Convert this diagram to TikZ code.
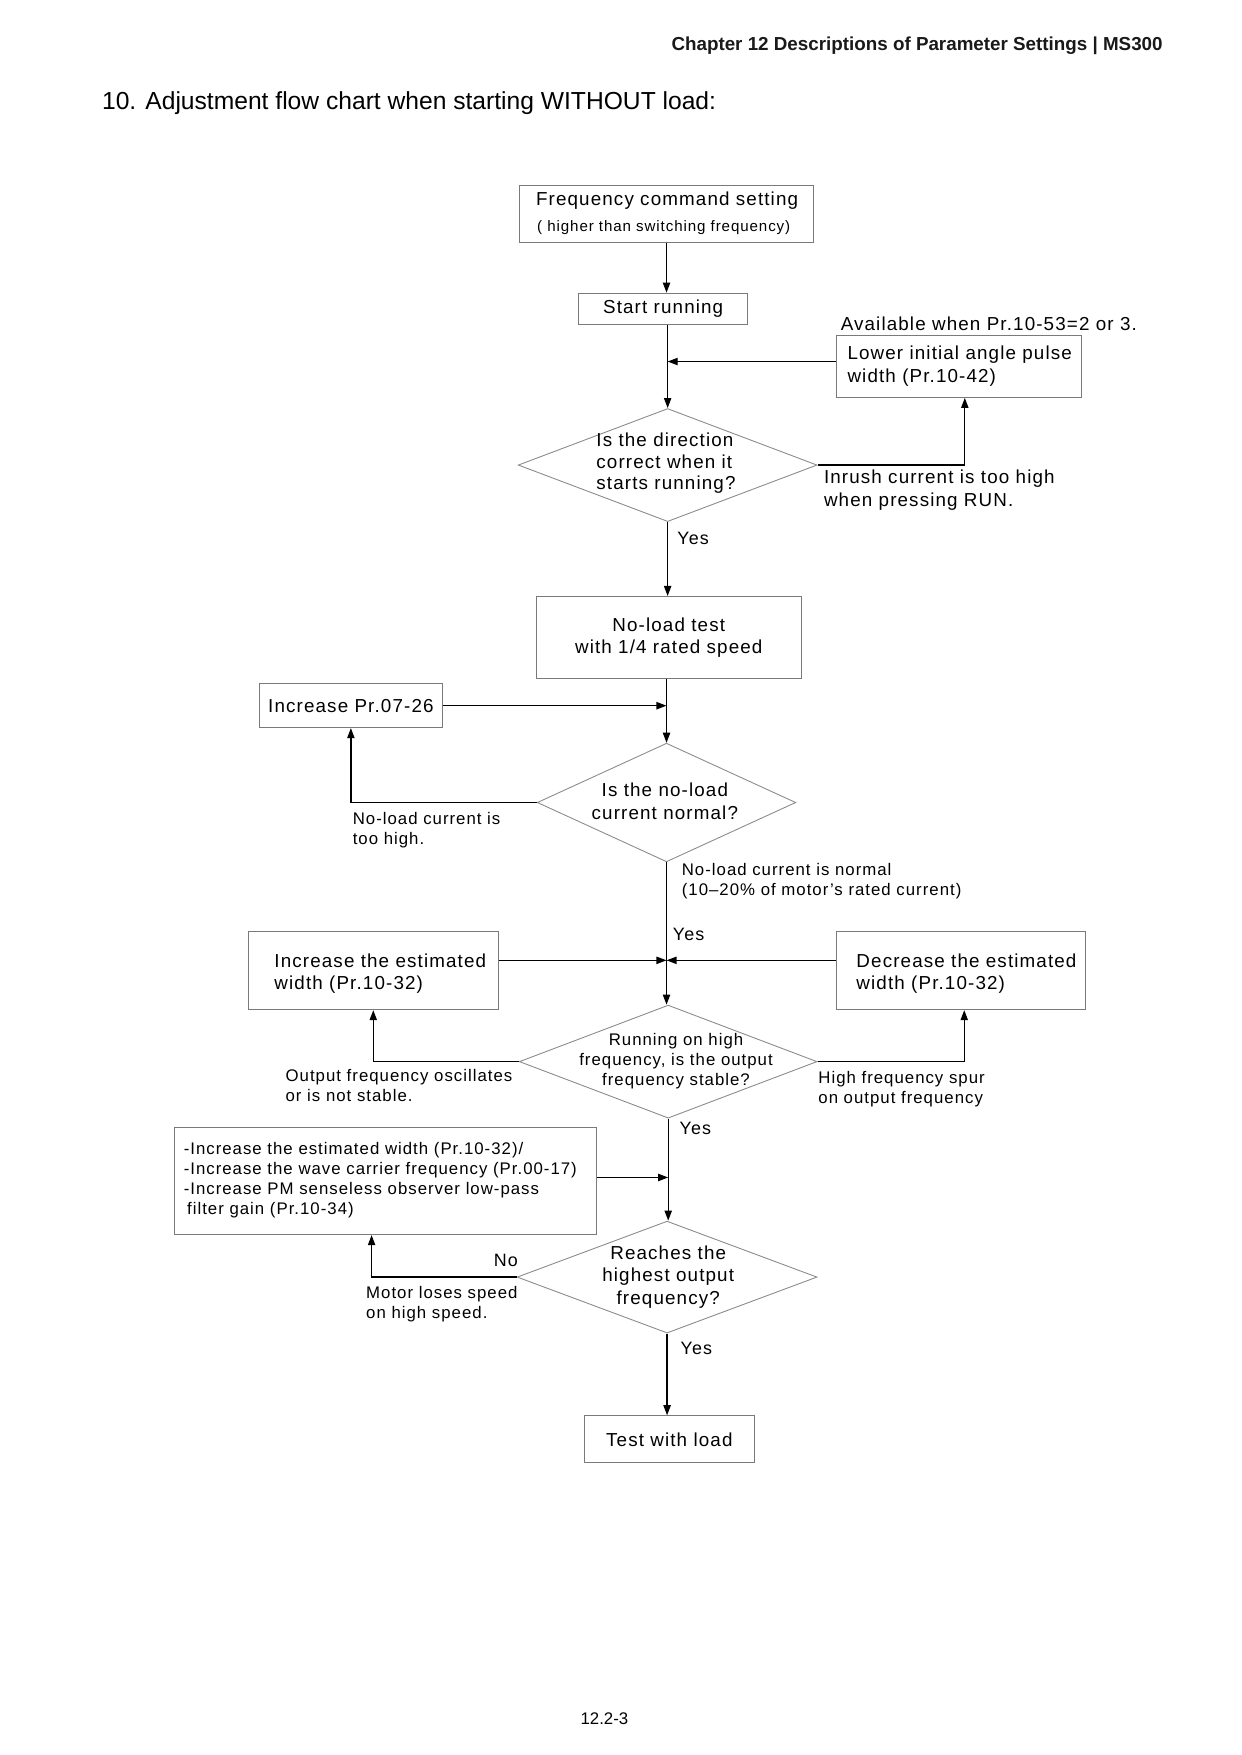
\documentclass[tikz,border=0pt]{standalone}
\usepackage{fontspec}
\setmainfont{Liberation Sans}
\newfontfamily\fcfont{Liberation Sans}[LetterSpace=6.0]
\usetikzlibrary{arrows.meta,shapes.geometric}
\definecolor{boxgray}{HTML}{7A7A7A}
\definecolor{diagray}{HTML}{8C8C8C}
\tikzset{
  every node/.style={inner sep=0pt},
  boxf/.style={font=\fcfont\fontsize{16.8bp}{20bp}\selectfont},
  labf/.style={font=\fcfont\fontsize{15bp}{18bp}\selectfont},
  yesf/.style={font=\fcfont\fontsize{16bp}{19bp}\selectfont},
  box/.style={draw=boxgray, line width=1bp, rectangle, inner sep=0pt, boxf},
  dia/.style={draw=diagray, line width=0.8bp, diamond, inner sep=0pt},
  conn/.style={line width=1.2bp, -{Triangle[length=9bp,width=6.5bp]}},
}
\begin{document}
\begin{tikzpicture}[x=1bp,y=-1bp]
\useasboundingbox[fill=white] (0,0) rectangle (1109,1568);
% header, title, footer
\node[anchor=east, font=\bfseries\fontsize{16.8bp}{20bp}\selectfont, text=black!90] (hdr) at (1039,41) {Chapter 12 Descriptions of Parameter Settings | MS300};
\node[anchor=west, font=\fontsize{22bp}{26bp}\selectfont] (ttl) at (91,92) {10. Adjustment flow chart when starting WITHOUT load:};
\node[font=\fontsize{15bp}{18bp}\selectfont] (pg) at (540,1536) {12.2-3};
% frequency box
\node[box, minimum width=263bp, minimum height=51bp] (f1) at (595.5,191.5) {};
\node[boxf] (f1a) at (596,179) {Frequency command setting};
\node[font=\fcfont\fontsize{13.5bp}{16bp}\selectfont] (f1b) at (593,203) {( higher than switching frequency)};
% start
\node[box, minimum width=151bp, minimum height=28bp] (s1) at (592.5,276) {Start running};
% lower box
\node[anchor=west, boxf] (avail) at (751,289) {Available when Pr.10-53=2 or 3.};
\node[box, minimum width=219bp, minimum height=55bp] (lw) at (856.5,327.5) {};
\node[anchor=west, boxf, align=left] (lwt) at (757,327) {Lower initial angle pulse\\width (Pr.10-42)};
% diamond 1
\node[dia, minimum width=267bp, minimum height=101bp] (d1) at (596.5,415.5) {};
\node[font=\fcfont\fontsize{16.8bp}{19bp}\selectfont, align=left] (d1t) at (595,414) {Is the direction\\correct when it\\starts running?};
\node[anchor=west, boxf, align=left] (inr) at (736,438) {Inrush current is too high\\when pressing RUN.};
\node[anchor=west, yesf] (yes1) at (605,481) {Yes};
% no-load test
\node[box, minimum width=237bp, minimum height=73bp, align=center] (t1) at (597.5,569.5) {No-load test\\with 1/4 rated speed};
\node[box, minimum width=163bp, minimum height=39bp] (inc) at (313.5,630.5) {Increase Pr.07-26};
% diamond 2
\node[dia, minimum width=231bp, minimum height=106bp] (d2) at (595.5,717) {};
\node[boxf, align=center] (d2t) at (594,716) {Is the no-load\\current normal?};
\node[anchor=west, labf, align=left] (nlh) at (315,742) {No-load current is\\too high.};
\node[anchor=west, labf, align=left] (nln) at (609,787) {No-load current is normal\\(10–20\% of motor’s rated current)};
\node[anchor=west, yesf] (yes2) at (601,835) {Yes};
% width boxes
\node[box, minimum width=223bp, minimum height=70bp] (ie) at (333.5,867) {};
\node[anchor=west, boxf, align=left] (iet) at (245,870) {Increase the estimated\\width (Pr.10-32)};
\node[box, minimum width=223bp, minimum height=70bp] (de) at (858.5,867) {};
\node[anchor=west, boxf, align=left] (det) at (765,870) {Decrease the estimated\\width (Pr.10-32)};
% diamond 3
\node[dia, minimum width=266bp, minimum height=101bp] (d3) at (597,948.5) {};
\node[labf, align=center] (d3t) at (604,948) {Running on high\\frequency, is the output\\frequency stable?};
\node[anchor=west, labf, align=left] (osc) at (255,970) {Output frequency oscillates\\or is not stable.};
\node[anchor=west, labf, align=left] (spur) at (731,973) {High frequency spur\\on output frequency};
\node[anchor=west, yesf] (yes3) at (607,1008) {Yes};
% big box
\node[box, minimum width=377bp, minimum height=96bp] (bb) at (344.5,1055) {};
\node[anchor=west, font=\fcfont\fontsize{15bp}{17.7bp}\selectfont, align=left] (bbt) at (164,1054.5) {-Increase the estimated width (Pr.10-32)/\\-Increase the wave carrier frequency (Pr.00-17)\\-Increase PM senseless observer low-pass\\\hspace*{3bp}filter gain (Pr.10-34)};
% diamond 4
\node[dia, minimum width=268bp, minimum height=100bp] (d4) at (596,1141) {};
\node[boxf, align=center] (d4t) at (597,1141) {Reaches the\\highest output\\frequency?};
\node[anchor=west, yesf] (no) at (441,1126) {No};
\node[anchor=west, labf, align=left] (mot) at (327,1165) {Motor loses speed\\on high speed.};
\node[anchor=west, yesf] (yes4) at (608,1205) {Yes};
% test with load
\node[box, minimum width=152bp, minimum height=42bp] (tl) at (598,1286) {Test with load};
% connectors
\draw[conn] (f1.south) -- (f1.south |- s1.north);
\draw[conn] (d1.north |- s1.south) -- (d1.north);
\draw[conn] ([yshift=4.5bp]lw.west) -- ([yshift=4.5bp]lw.west -| d1.north);
\draw[conn] (d1.east) -| ([xshift=5.5bp]lw.south);
\draw[conn] (d1.south) -- (d1.south |- t1.north);
\draw[conn] (d2.north |- t1.south) -- (d2.north);
\draw[conn] (inc.east) -- (inc.east -| d2.north);
\draw[conn] (d2.west) -| (inc.south);
\draw[conn] (d2.south) -- (d2.south |- d3.north);
\draw[conn] ([yshift=9bp]ie.east) -- ([yshift=9bp]ie.east -| d2.south);
\draw[conn] ([yshift=9bp]de.west) -- ([yshift=9bp]de.west -| d2.south);
\draw[conn] (d3.west) -| (ie.south);
\draw[conn] (d3.east) -| ([xshift=3bp]de.south);
\draw[conn] (d3.south) -- (d3.south |- d4.north);
\draw[conn] ([yshift=3bp]bb.east) -- ([yshift=3bp]bb.east -| d3.south);
\draw[conn] (d4.west) -| ([xshift=-12.5bp]bb.south);
\draw[conn] (d4.south) -- (d4.south |- tl.north);
\end{tikzpicture}
\end{document}
